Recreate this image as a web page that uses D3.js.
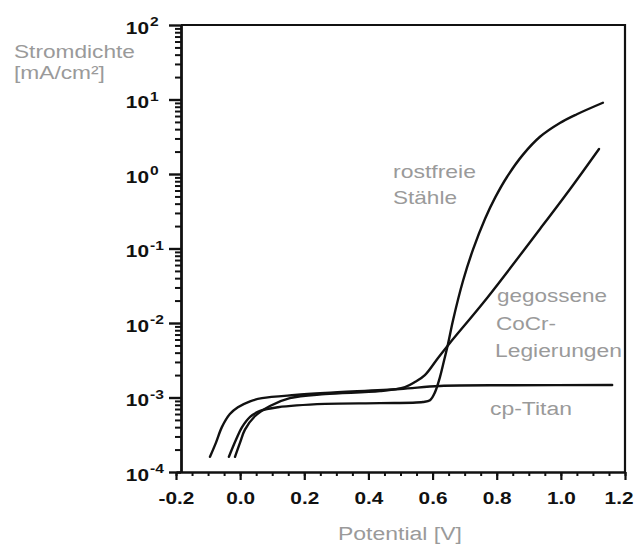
<!DOCTYPE html>
<html>
<head>
<meta charset="utf-8">
<script src="https://cdn.jsdelivr.net/npm/d3@7"></script>
<style>
  body { margin: 0; background: #fff; }
  svg { display: block; }
</style>
</head>
<body>
<svg id="chart" width="635" height="547"></svg>
<script>
// Potential axis ticks (V)
const potentialTicks = [-0.2, 0.0, 0.2, 0.4, 0.6, 0.8, 1.0, 1.2];
const potentialTickLabels = ["-0.2", "0.0", "0.2", "0.4", "0.6", "0.8", "1.0", "1.2"];
// Current density decades (mA/cm²)
const currentDecades = [1e-4, 1e-3, 1e-2, 1e-1, 1e0, 1e1, 1e2];
const decadeExponents = ["-4", "-3", "-2", "-1", "0", "1", "2"];

// Polarisation curves: [potential V, current density mA/cm²]
const titan = [
  [-0.094, 1.6e-4], [-0.075, 2.5e-4], [-0.057, 4.0e-4], [-0.032, 6.0e-4],
  [-0.007, 7.4e-4], [0.031, 8.9e-4], [0.068, 9.8e-4], [0.171, 1.08e-3],
  [0.265, 1.15e-3], [0.498, 1.30e-3], [0.623, 1.43e-3], [0.85, 1.46e-3],
  [1.160, 1.47e-3]
];
const steel = [
  [-0.035, 1.6e-4], [-0.013, 2.7e-4], [0.006, 4.0e-4], [0.031, 5.5e-4],
  [0.062, 6.6e-4], [0.118, 7.4e-4], [0.265, 8.2e-4], [0.436, 8.4e-4],
  [0.570, 8.7e-4], [0.592, 9.2e-4], [0.608, 1.19e-3], [0.623, 1.88e-3],
  [0.636, 3.16e-3], [0.648, 5.2e-3], [0.664, 1.1e-2], [0.695, 3.69e-2],
  [0.726, 9.66e-2], [0.764, 0.253], [0.795, 0.481], [0.832, 0.912],
  [0.882, 1.82], [0.935, 3.16], [0.997, 4.84], [1.050, 6.34], [1.131, 9.04]
];
const cocr = [
  [-0.016, 1.6e-4], [0.000, 2.5e-4], [0.015, 3.7e-4], [0.046, 5.6e-4],
  [0.093, 7.7e-4], [0.155, 9.8e-4], [0.265, 1.11e-3], [0.436, 1.22e-3],
  [0.514, 1.38e-3], [0.545, 1.61e-3], [0.576, 2.0e-3], [0.617, 3.4e-3],
  [0.654, 5.4e-3], [0.770, 2.17e-2], [0.935, 0.183], [1.029, 0.63],
  [1.119, 2.17]
];

const steelLabel = ["rostfreie", "Stähle"];
const cocrLabel = ["gegossene", "CoCr-", "Legierungen"];
const titanLabel = ["cp-Titan"];
const yTitle = ["Stromdichte", "[mA/cm²]"];
const xTitle = "Potential [V]";

const svg = d3.select("#chart");
const plotLeft = 181;

const x = d3.scaleLinear().domain([-0.2, 1.2]).range([176, 625]);
const y = d3.scaleLog().domain([1e-4, 1e2]).range([472, 25]);

const grey = "#9a9a9a";
const ink = "#111";
const fontFamily = "'Liberation Sans', Arial, sans-serif";

// widen a text element horizontally about its own anchor point
function widen(node, k) {
  const px = +node.getAttribute("x") || 0;
  const py = +node.getAttribute("y") || 0;
  node.setAttribute("x", 0);
  node.setAttribute("y", 0);
  const prev = node.getAttribute("transform") || "";
  node.setAttribute("transform", `${prev} translate(${px},${py}) scale(${k},1)`);
}
function widenBy(sel, k) { sel.each(function () { widen(this, k); }); }
function widenTo(sel, w) {
  sel.each(function () { widen(this, w / this.getComputedTextLength()); });
}

// ---- x axis ----
const xMinor = d3.range(-0.2, 1.2001, 0.05).map(v => +v.toFixed(2));
const gxMinor = svg.append("g").attr("transform", "translate(0,472)")
  .call(d3.axisBottom(x).tickValues(xMinor).tickSize(4).tickSizeOuter(0).tickFormat(""));
gxMinor.select(".domain").remove();
gxMinor.selectAll("line").attr("stroke", ink).attr("stroke-width", 2);

const gx = svg.append("g").attr("transform", "translate(0,472)")
  .call(d3.axisBottom(x).tickValues(potentialTicks).tickSize(8).tickSizeOuter(0)
    .tickPadding(13).tickFormat((d, i) => potentialTickLabels[i]));
gx.select(".domain").attr("stroke", ink).attr("stroke-width", 2.6);
gx.selectAll("line").attr("stroke", ink).attr("stroke-width", 2.2);
gx.selectAll("text")
  .attr("fill", ink)
  .style("font-family", fontFamily)
  .style("font-weight", "bold")
  .style("font-size", "16px")
  .call(widenBy, 1.3);
// the last label sits at the window edge: keep it inside
gx.selectAll(".tick").filter(d => d === 1.2).select("text")
  .attr("text-anchor", "end")
  .attr("transform", function () {
    return this.getAttribute("transform").replace(/translate\(([-\d.]+),/, "translate(8,");
  });

// ---- y axis ----
const yMinor = [];
for (let e = -4; e < 2; e++) for (let k = 2; k <= 9; k++) yMinor.push(k * Math.pow(10, e));
const gyMinor = svg.append("g").attr("transform", `translate(${plotLeft},0)`)
  .call(d3.axisLeft(y).tickValues(yMinor).tickSize(6).tickSizeOuter(0).tickFormat(""));
gyMinor.select(".domain").remove();
gyMinor.selectAll("line").attr("stroke", ink).attr("stroke-width", 2);

const gy = svg.append("g").attr("transform", `translate(${plotLeft},0)`)
  .call(d3.axisLeft(y).tickValues(currentDecades).tickSize(12).tickSizeOuter(0).tickFormat(""));
gy.select(".domain").attr("stroke", ink).attr("stroke-width", 2.8);
gy.selectAll("line").attr("stroke", ink).attr("stroke-width", 2.4);

// decade labels 10^n
const decadeLabels = svg.append("g")
  .style("font-family", fontFamily)
  .style("font-weight", "bold")
  .attr("fill", ink);
currentDecades.forEach((d, i) => {
  decadeLabels.append("text")
    .attr("x", 149).attr("y", y(d) + 8.5)
    .attr("text-anchor", "end")
    .style("font-size", "16px")
    .text("10")
    .call(widenBy, 1.3);
  decadeLabels.append("text")
    .attr("x", 150).attr("y", y(d) + 1)
    .style("font-size", "12px")
    .text(decadeExponents[i])
    .call(widenBy, 1.3);
});

// ---- frame (top and right edges) ----
svg.append("path")
  .attr("d", `M${plotLeft},${y(1e2)}H${x(1.2)}V${y(1e-4)}`)
  .attr("fill", "none").attr("stroke", ink).attr("stroke-width", 2.2);

// ---- curves ----
const line = d3.line()
  .x(d => x(d[0]))
  .y(d => y(d[1]))
  .curve(d3.curveCatmullRom.alpha(0.5));

[titan, cocr, steel].forEach(series => {
  svg.append("path")
    .datum(series)
    .attr("d", line)
    .attr("fill", "none")
    .attr("stroke", ink)
    .attr("stroke-width", 2.4)
    .attr("stroke-linejoin", "round")
    .attr("stroke-linecap", "round");
});

// ---- grey labels ----
const labels = svg.append("g")
  .style("font-family", fontFamily)
  .style("font-size", "19px")
  .attr("fill", grey);

function putText(txt, px, py, w) {
  labels.append("text").attr("x", px).attr("y", py).text(txt).call(widenTo, w);
}

putText(yTitle[0], 14, 58, 121);
putText(yTitle[1], 14, 79, 91);
putText(xTitle, 338, 540, 124);

putText(steelLabel[0], 393, 178, 83);
putText(steelLabel[1], 393, 204, 64);
putText(cocrLabel[0], 497, 302, 110);
putText(cocrLabel[1], 496, 330, 60);
putText(cocrLabel[2], 495, 357, 127);
putText(titanLabel[0], 490, 415, 82);
</script>
</body>
</html>
